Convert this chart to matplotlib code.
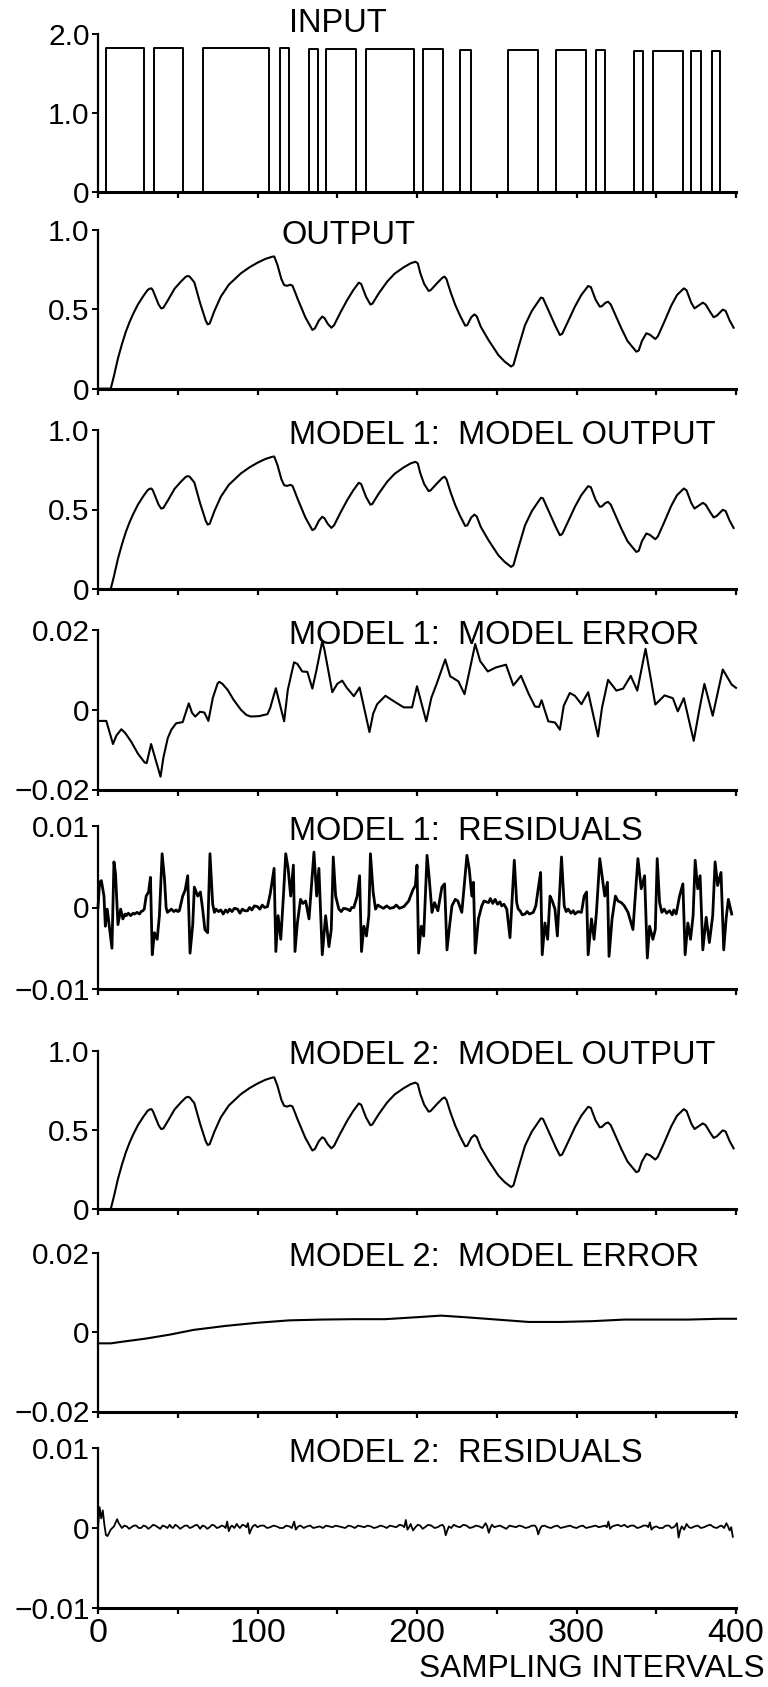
import matplotlib
matplotlib.use("Agg")
import matplotlib.pyplot as plt
from matplotlib import font_manager

# ---------------------------------------------------------------- data
# input pulse train: (start, end, level)
INPUT_PULSES = [
    (5, 29, 1.827), (35, 53, 1.827), (66, 107, 1.827), (114, 120, 1.822),
    (132, 138, 1.816), (143, 162, 1.814), (168, 198, 1.814), (204, 216, 1.808),
    (227, 234, 1.797), (257, 276, 1.797), (287, 306, 1.797), (312, 318, 1.797),
    (336, 342, 1.789), (348, 367, 1.789), (372, 378, 1.785), (385, 390, 1.780),
]

# measured plant output (sample, value)
OUTPUT_PTS = [
    (0, 0), (8, 0), (10, 0.08), (12.5, 0.19), (15, 0.28), (17.5, 0.36),
    (19.8, 0.42), (22, 0.47), (25, 0.53), (28.5, 0.585), (31, 0.62),
    (32.3, 0.63), (33.5, 0.632), (34.4, 0.62), (36, 0.58), (38, 0.53),
    (39.6, 0.506), (41, 0.51), (44, 0.56), (48, 0.63), (52, 0.675),
    (55, 0.705), (56.3, 0.71), (57.5, 0.706), (60.4, 0.67), (64, 0.54),
    (67.5, 0.43), (68.75, 0.405), (70, 0.41), (73, 0.49), (77, 0.58),
    (82, 0.655), (89.6, 0.727), (95, 0.765), (100, 0.794), (105, 0.818),
    (109.4, 0.832), (110.5, 0.833), (112.5, 0.78), (115, 0.69),
    (116.7, 0.653), (118.5, 0.648), (120.5, 0.655), (121.9, 0.649),
    (123.5, 0.61), (125, 0.57), (130, 0.45), (134.4, 0.37), (136, 0.38),
    (138.5, 0.43), (140.6, 0.454), (142, 0.445), (144, 0.41), (146.3, 0.384),
    (148, 0.40), (152, 0.48), (156.25, 0.559), (160, 0.62), (163.5, 0.668),
    (165, 0.66), (168, 0.58), (170.8, 0.53), (172, 0.535), (176, 0.60),
    (181.25, 0.674), (186, 0.725), (191.7, 0.765), (196, 0.79), (199, 0.80),
    (200.5, 0.79), (202.1, 0.727), (204.5, 0.66), (207.3, 0.616),
    (208.5, 0.62), (212.5, 0.664), (216, 0.70), (217.3, 0.706),
    (218.5, 0.69), (221, 0.61), (224, 0.527), (227, 0.46), (230.2, 0.397),
    (231.5, 0.40), (234, 0.45), (236, 0.468), (237.5, 0.455), (240, 0.39),
    (244.8, 0.307), (251, 0.212), (255, 0.17), (259, 0.139), (260.5, 0.15),
    (263, 0.24), (267.7, 0.40), (272, 0.49), (277.7, 0.574), (279, 0.57),
    (283, 0.48), (287, 0.39), (289.6, 0.338), (291, 0.345), (295, 0.43),
    (299, 0.517), (303, 0.59), (307.3, 0.647), (309, 0.64), (312, 0.56),
    (314.6, 0.517), (316, 0.52), (318, 0.54), (319.8, 0.548), (321.5, 0.53),
    (325, 0.45), (328.1, 0.38), (332, 0.30), (337.5, 0.233), (339, 0.24),
    (341, 0.30), (343.8, 0.349), (346, 0.34), (349.4, 0.313), (351, 0.33),
    (355, 0.42), (359.4, 0.523), (363, 0.59), (367.3, 0.632), (369, 0.62),
    (372, 0.54), (374, 0.506), (376, 0.52), (379.2, 0.542), (381, 0.53),
    (384, 0.48), (386, 0.45), (388, 0.46), (391.7, 0.498), (393.5, 0.49),
    (396, 0.43), (398.5, 0.384),
]

# model 1 output error, units of 1e-3
ERR1_PTS = [
    (0, -2.8), (5.2, -2.8), (9.4, -8.6), (11.5, -6.5), (14.6, -4.9),
    (17, -5.8), (20.8, -8.0), (25, -11.0), (29.2, -13.2), (30.5, -13.4),
    (33.3, -8.6), (39.2, -16.8), (41, -12.0), (43.75, -7.1), (46, -5.0),
    (49, -3.4), (53.1, -3.1), (56.9, 1.6), (59, -0.8), (61, -1.7),
    (64, -0.5), (66.7, -0.7), (69.2, -2.8), (72, 3.0), (75, 6.6), (76, 7.0),
    (78, 6.5), (81.25, 5.0), (85, 2.5), (89.6, 0.0), (93, -1.3), (95.8, -1.7),
    (101, -1.6), (106.25, -1.1), (108, 0.5), (111.5, 5.4), (116.7, -2.9),
    (119, 5.0), (122.9, 11.9), (125, 11.5), (128, 9.6), (131.25, 9.5),
    (134.4, 5.3), (137, 10.0), (140.6, 17.2), (142, 15.0), (146.9, 4.4),
    (150, 6.5), (153.1, 7.3), (156, 5.5), (160.4, 3.4), (164, 5.6),
    (170.2, -5.6), (172.5, -1.0), (175, 1.4), (180.2, 3.5), (186, 2.0),
    (191.7, 0.6), (196.9, 0.6), (200, 5.9), (205.8, -2.9), (209, 3.0),
    (212.5, 6.7), (217.7, 12.6), (220.8, 8.4), (226, 7.1), (229.8, 3.9),
    (236.5, 16.5), (239.6, 12.2), (244.4, 9.6), (249.4, 10.6), (255.8, 11.3),
    (260.4, 6.1), (265.2, 8.5), (270, 4.0), (274, 0.8), (276.5, 0.7),
    (278.1, 2.4), (282.3, -2.9), (286.5, -3.2), (289.6, -5.0), (292, 1.0),
    (295.8, 4.2), (299, 3.5), (303.1, 1.4), (307.3, 4.4), (313.5, -6.7),
    (316, 0.5), (319.8, 7.5), (325, 4.8), (329.2, 5.3), (334, 8.5),
    (338.1, 4.8), (343.3, 15.3), (349.4, 1.3), (355.2, 3.6), (360.4, 2.9),
    (363.5, -0.4), (367.3, 2.9), (373.5, -7.8), (377, 0.0), (380.2, 6.5),
    (385.4, -1.5), (391.7, 10.1), (397.3, 6.3), (400, 5.5),
]

# model 1 residuals, units of 1e-3
RES1_PTS = [
    (0, 0), (1, 3.1), (2.1, 3.3), (3.75, 1.4), (4.6, -2.3), (5.8, -0.2),
    (7.3, -2.7), (8.75, -5.0), (10, 5.6), (11, 4.1), (12.5, -2.1),
    (14.2, -0.2), (15.6, -1.4), (17, -0.8), (17.7, -1.0), (19, -0.7),
    (20.5, -1.0), (22, -0.7), (22.9, -0.8), (24.5, -0.6), (26, -0.8),
    (27, -0.5), (28.1, -0.4), (29, -0.2), (30.2, 1.4), (31.7, 1.9),
    (32.9, 3.7), (34, -5.8), (35.4, -3.1), (37.1, -3.9), (38.5, -1.0),
    (40.2, 6.6), (41.7, 3.5), (42.7, 0.0), (43.5, -0.6), (44.8, -0.4),
    (46, -0.2), (47.5, -0.5), (49, -0.3), (50, -0.5), (51, -0.4), (53.1, 1.4),
    (54.6, 2.1), (56.25, 3.9), (57.7, -5.6), (59.4, -2.1), (60.4, 2.5),
    (62.5, 1.4), (64.2, 1.9), (65.6, -0.2), (67, -2.7), (68.75, -3.1),
    (70.2, 6.6), (71.9, 0.4), (73, -0.6), (74, -0.2), (75.5, -0.5),
    (77, -0.3), (78.5, -0.8), (80, -0.3), (81.25, -0.6), (82.5, -0.2),
    (84, -0.5), (85.5, -0.1), (87.5, -0.2), (89, -0.7), (90.5, -0.2),
    (92, -0.4), (93.75, -0.4), (95, 0.0), (96.5, -0.3), (98, 0.2),
    (100, 0.1), (101.5, -0.2), (103, 0.3), (104.5, 0.0), (106.25, 0.1),
    (108, 1.7), (110.4, 4.8), (111.5, -5.4), (112.9, -1.0), (114.6, -3.9),
    (116.25, 1.4), (117.7, 6.6), (119.2, 4.8), (120.8, 1.4), (122.5, 5.2),
    (123.5, -5.4), (125, -1.9), (127, 1.0), (128.5, 0.5), (130.2, 0.8),
    (132.3, -1.4), (135.4, 6.8), (137.1, 1.4), (138.5, 4.8), (140.6, -5.8),
    (142.7, -1.0), (144.8, -4.8), (146.25, -2.7), (147.5, 6.2), (149, 1.4),
    (151, -0.2), (152.5, -0.5), (154, -0.1), (156.25, -0.2), (158, -0.4),
    (159, 0.0), (160.4, 0.0), (162.5, 1.4), (164, 3.9), (165.2, -5.4),
    (166.7, -2.3), (168.3, -3.5), (169.8, -1.0), (170.8, 6.6), (172.5, 1.9),
    (174, -0.2), (175.5, 0.3), (177, 0.1), (179, -0.1), (181, 0.2),
    (183, -0.1), (185.4, 0.0), (187, 0.3), (189, -0.1), (191.7, 0.1),
    (193, 0.4), (194.8, 0.8), (197.3, 2.1), (199, 2.7), (200, 5.2),
    (201, -5.6), (202.7, -2.3), (204.2, -3.5), (206.3, 6.4), (207.7, 3.5),
    (209.4, -0.6), (211, 0.6), (213.1, -0.4), (215.6, 2.5), (217.3, 2.9),
    (218.8, -5.2), (220.4, -2.3), (221.9, 0.2), (224, 1.0), (225.6, 0.8),
    (228.1, -0.6), (231.3, 6.4), (232.7, 4.8), (234.4, 1.4), (235.4, 3.1),
    (236.5, -5.6), (238.5, -1.4), (240.6, 0.2), (242, 0.8), (244.8, 0.6),
    (246, 1.1), (247.5, 0.5), (249, 1.0), (250.5, 0.4), (252, 0.7),
    (253.1, 0.2), (254.5, 0.4), (256.3, -0.2), (258.3, -3.7), (261, 5.8),
    (262.5, 0.6), (263.5, -0.2), (264.6, -0.4), (266, -0.9), (267.7, -0.8),
    (269, -0.5), (270.5, -0.8), (272.9, -0.6), (274.5, 0.2), (276, 2.3),
    (277.5, 4.3), (278.5, -5.8), (280.2, -1.9), (281.9, -3.9), (283.4, 1.4),
    (284.8, 0.8), (286.5, -0.2), (288, -3.5), (290.6, 6.2), (292.3, 0.2),
    (293.5, -0.5), (294.8, -0.2), (296.5, -0.7), (298, -0.4), (299, -0.8),
    (301, -0.5), (303.1, -0.6), (304.8, 1.4), (306.3, 1.9), (307.3, -5.8),
    (309.4, -1.4), (311, -3.9), (312.5, -0.6), (314.6, 6.0), (316, 3.9),
    (317.7, 1.4), (319.4, 3.1), (320.4, -6.0), (322.3, -1.4), (324.4, 1.4),
    (326, 0.8), (328.1, 0.6), (330, 0.2), (332.3, -0.6), (335.4, -2.7),
    (338.5, 6.0), (340.6, 2.3), (342.7, 3.9), (344.4, -6.2), (345.8, -2.3),
    (347.9, -3.9), (349.4, -2.7), (350.6, 6.0), (352.1, 0.6), (353.5, -0.6),
    (355, -0.2), (356.5, -0.7), (358.3, -0.4), (360, -0.9), (361, -0.3),
    (362.5, -0.8), (364.6, 1.4), (366.7, 2.9), (368.1, -5.8), (369.8, -1.9),
    (371.5, -3.9), (373.1, -1.0), (374.4, 5.8), (376, 2.3), (377.5, 3.9),
    (379.2, -5.2), (381.3, -1.2), (383.3, -4.3), (385.4, -1.0), (386.9, 5.6),
    (388.5, 2.7), (390.6, 4.3), (392.3, -5.2), (393.8, -1.4), (395.2, 1.0),
    (397.3, -0.8),
]

# model 2 output error, units of 1e-3
ERR2_PTS = [
    (0, -2.8), (8, -2.8), (15, -2.4), (30, -1.6), (45, -0.6), (60, 0.6),
    (80, 1.6), (100, 2.4), (120, 3.0), (140, 3.2), (160, 3.3), (180, 3.3),
    (200, 3.8), (215, 4.2), (230, 3.8), (250, 3.2), (270, 2.6), (290, 2.6),
    (310, 2.8), (330, 3.2), (350, 3.2), (370, 3.2), (390, 3.4), (400, 3.4),
]

# model 2 residuals, units of 1e-3
RES2_PTS = [
    (0, 0), (1, 2.6), (2, 1.2), (3, 2.2), (4, 0.4), (5, -0.9), (6, -1.0),
    (8, -0.2), (10, 0.2), (12, 1.1), (13, 0.6), (15, 0.0), (16.5, 0.3),
    (18, 0.2), (19.5, -0.1), (21, 0.1), (22.5, 0.3), (24, 0.3), (25.5, 0.0),
    (27, 0.0), (28.5, 0.3), (30, 0.2), (31.5, -0.1), (33, 0.1), (34.5, 0.4),
    (36, 0.3), (37.5, 0.1), (39, -0.1), (40.5, 0.3), (42, 0.2), (43.5, 0.0),
    (45, 0.4), (46, 0.1), (47, 0.0), (48.5, 0.4), (50, 0.2), (51.5, -0.1),
    (53, 0.1), (54.5, 0.3), (56, 0.3), (57.5, 0.0), (59, 0.1), (60.5, 0.3),
    (62, 0.4), (63, 0.2), (64, -0.1), (65.5, 0.3), (67, 0.2), (68.5, -0.1),
    (70, 0.1), (71.5, 0.4), (73, 0.3), (74.5, 0.0), (76, 0.1), (77.5, 0.3),
    (79, 0.2), (80, 0.0), (81, 0.8), (82, -0.4), (83, 0.1), (84, 0.3),
    (85.5, 0.0), (87, 0.5), (88, 0.2), (89, 0.0), (90.5, 0.4), (92, 0.3),
    (93, 0.1), (94, 0.6), (95, -0.7), (96, -0.2), (97, 0.2), (98.5, 0.4),
    (100, 0.1), (102, 0.3), (104, 0.3), (106, 0.0), (108, 0.1), (110, 0.3),
    (112, 0.2), (114, 0.0), (116, 0.0), (118, 0.3), (120, 0.2), (121.5, 0.0),
    (123, 0.8), (124, -0.2), (125.5, 0.2), (127, 0.3), (129, 0.0),
    (131, 0.2), (133, 0.3), (135, 0.0), (137, 0.1), (139, 0.2), (141, 0.0),
    (143, 0.3), (145, 0.2), (147, 0.1), (149, 0.3), (151, 0.2), (153, 0.1),
    (155, 0.0), (157, 0.3), (159, 0.2), (161, 0.0), (163, 0.3), (165, 0.2),
    (167, 0.1), (169, 0.3), (171, 0.2), (173, 0.0), (175, 0.1), (177, 0.3),
    (179, 0.2), (181, 0.0), (183, 0.3), (185, 0.2), (187, 0.1), (189, 0.4),
    (191, 0.3), (192, 0.1), (193, 1.0), (194, -0.2), (195, 0.1), (196, 0.5),
    (197.5, -0.3), (199, 0.1), (200.5, 0.4), (202, 0.3), (203.5, -0.1),
    (205, 0.1), (207, 0.4), (209, 0.3), (211, 0.0), (213, 0.1), (214.5, 0.3),
    (216, 0.4), (217, 0.1), (218, -0.9), (219, -0.3), (220, 0.2), (221.5, 0.0),
    (223, 0.4), (225, 0.2), (227, 0.1), (229, 0.4), (231, 0.3), (233, 0.0),
    (235, 0.1), (237, 0.3), (239, 0.2), (241, 0.0), (243, 0.6), (244, 0.2),
    (245, -0.6), (246, 0.0), (247, 0.4), (248.5, 0.1), (250, 0.2),
    (252, 0.3), (254, 0.1), (256, -0.1), (258, 0.3), (260, 0.2), (262, 0.1),
    (264, 0.3), (266, 0.2), (268, 0.0), (270, 0.1), (272, 0.3), (274, 0.3),
    (275, 0.0), (276, -0.8), (277, -0.2), (278, 0.2), (280, 0.3), (282, 0.1),
    (284, 0.0), (286, 0.2), (288, 0.3), (290, 0.0), (292, 0.1), (294, 0.2),
    (296, 0.3), (298, 0.1), (300, 0.0), (302, 0.2), (304, 0.3), (306, 0.0),
    (308, 0.1), (310, 0.2), (312, 0.3), (314, 0.1), (316, 0.2), (318, 0.3),
    (319, 0.1), (320, 0.8), (321, -0.1), (322.5, 0.2), (324, 0.3), (326, 0.4),
    (328, 0.2), (330, 0.4), (332, 0.1), (334, 0.3), (336, 0.3), (338, 0.0),
    (340, 0.1), (342, 0.3), (344, 0.3), (345, 0.1), (346, 0.7), (347, -0.2),
    (348.5, 0.1), (350, 0.2), (352, 0.0), (354, 0.0), (356, 0.3), (358, 0.3),
    (359.5, 0.0), (361, 0.1), (362, 0.3), (363, 0.6), (364, -1.2), (365, -0.3),
    (366, 0.2), (367.5, -0.2), (369, 0.5), (370.5, 0.1), (372, 0.0),
    (374, 0.2), (376, 0.3), (378, 0.0), (380, 0.1), (382, 0.3), (384, 0.4),
    (386, 0.1), (388, 0.0), (389.5, 0.2), (391, 0.3), (392.5, 0.0),
    (394, 0.6), (395, 0.2), (396, -0.3), (397, 0.1), (398, -1.1),
]

TITLES = [
    "INPUT", "OUTPUT", "MODEL 1:  MODEL OUTPUT", "MODEL 1:  MODEL ERROR",
    "MODEL 1:  RESIDUALS", "MODEL 2:  MODEL OUTPUT", "MODEL 2:  MODEL ERROR",
    "MODEL 2:  RESIDUALS",
]
Y_TICKS = [
    ([0, 1.0, 2.0], ["0", "1.0", "2.0"]),
    ([0, 0.5, 1.0], ["0", "0.5", "1.0"]),
    ([0, 0.5, 1.0], ["0", "0.5", "1.0"]),
    ([-0.02, 0, 0.02], ["\u22120.02", "0", "0.02"]),
    ([-0.01, 0, 0.01], ["\u22120.01", "0", "0.01"]),
    ([0, 0.5, 1.0], ["0", "0.5", "1.0"]),
    ([-0.02, 0, 0.02], ["\u22120.02", "0", "0.02"]),
    ([-0.01, 0, 0.01], ["\u22120.01", "0", "0.01"]),
]
X_TICK_LABELS = ["0", "100", "200", "300", "400"]
X_LABEL = "SAMPLING INTERVALS"

# ---------------------------------------------------------------- style
names = {f.name for f in font_manager.fontManager.ttflist}
TITLE_FONT = next(f for f in ["Liberation Sans", "DejaVu Sans"] if f in names)
if "Liberation Sans Narrow" in names:
    NUM_FONT, NUM_SCALE = "Liberation Sans Narrow", 1.0
else:
    NUM_FONT, NUM_SCALE = TITLE_FONT, 0.86
plt.rcParams["font.family"] = [TITLE_FONT, "DejaVu Sans"]
num_font = dict(family=[NUM_FONT, "DejaVu Sans"])

W, H = 768, 1687
fig = plt.figure(figsize=(W / 100, H / 100), dpi=100)

LEFT, RIGHT = 98, 736
# (top, bottom) pixel rows of each panel
ROWS = [(34, 192), (230, 388.6), (430, 589), (630, 789.5), (826, 989),
        (1051, 1209), (1253, 1411.5), (1448, 1608)]


def unzip(pts, scale=1.0):
    return [p[0] for p in pts], [p[1] * scale for p in pts]


def input_trace(pulses):
    xs, ys = [0], [0]
    for a, b, h in pulses:
        xs += [a, a, b, b]
        ys += [0, h, h, 0]
    xs.append(400)
    ys.append(0)
    return xs, ys


series = [
    input_trace(INPUT_PULSES),
    unzip(OUTPUT_PTS),
    unzip(OUTPUT_PTS),
    unzip(ERR1_PTS, 1e-3),
    unzip(RES1_PTS, 1e-3),
    unzip(OUTPUT_PTS),
    unzip(ERR2_PTS, 1e-3),
    unzip(RES2_PTS, 1e-3),
]
LINE_W = [1.4, 1.5, 1.5, 1.5, 2.0, 1.5, 1.5, 1.3]

# title anchor: (x axes-frac, pixels below panel top, horizontal alignment)
TITLE_POS = [(0.376, -10, "center"), (0.393, 5, "center")] + [(0.30, 5, "left")] * 6

for i, ((top, bot), (xs, ys)) in enumerate(zip(ROWS, series)):
    h = bot - top
    ax = fig.add_axes([LEFT / W, 1 - bot / H, (RIGHT - LEFT) / W, h / H])
    ax.plot(xs, ys, color="black", lw=LINE_W[i], solid_joinstyle="round",
            clip_on=False)
    ax.set_xlim(0, 400)
    ticks, labels = Y_TICKS[i]
    ax.set_ylim(ticks[0], ticks[-1])
    ax.set_yticks(ticks)
    ax.set_yticklabels(labels, fontsize=25 * NUM_SCALE, **num_font)
    ax.set_xticks(range(0, 401, 50))
    for s in ("top", "right"):
        ax.spines[s].set_visible(False)
    ax.spines["left"].set_linewidth(1.6)
    ax.spines["bottom"].set_linewidth(2.2)
    ax.tick_params(axis="y", direction="out", length=4.5, width=1.4, pad=1.5)
    ax.tick_params(axis="x", direction="out", length=4.5, width=1.6, pad=3)
    if i == len(ROWS) - 1:
        ax.set_xticklabels([X_TICK_LABELS[k // 2] if k % 2 == 0 else ""
                            for k in range(9)], fontsize=28.5 * NUM_SCALE,
                           **num_font)
    else:
        ax.set_xticklabels([])
    tx, dy, ha = TITLE_POS[i]
    ax.text(tx, 1 - dy / h, TITLES[i], transform=ax.transAxes,
            ha=ha, va="center", fontsize=23.5)

fig.text(765 / W, 1 - 1669 / H, X_LABEL, ha="right", va="center",
         fontsize=26.5 * NUM_SCALE, **num_font)

fig.savefig("out.png", dpi=100, facecolor="white")
